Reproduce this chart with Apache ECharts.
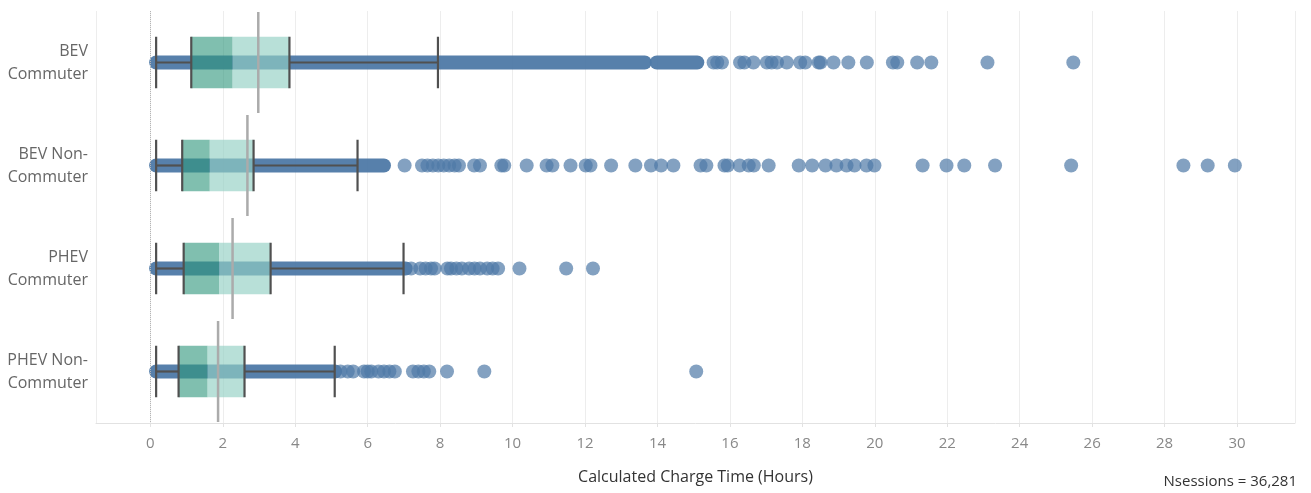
<!DOCTYPE html>
<html>
<head>
<meta charset="utf-8">
<script src="https://cdn.jsdelivr.net/npm/echarts@6.0.0/dist/echarts.min.js"></script>
<style>
  html, body { margin: 0; padding: 0; background: #fff; }
  #chart { width: 1311px; height: 493px; }
</style>
</head>
<body>
<div id="chart"></div>
<script>
const categories = ['BEV\nCommuter', 'BEV Non-\nCommuter', 'PHEV\nCommuter', 'PHEV Non-\nCommuter']
const lowerWhisker = [0.16, 0.16, 0.16, 0.16]
const q1 = [1.13, 0.88, 0.92, 0.78]
const median = [2.27, 1.64, 1.9, 1.58]
const q3 = [3.84, 2.85, 3.32, 2.6]
const upperWhisker = [7.94, 5.72, 6.99, 5.09]
const average = [2.98, 2.68, 2.27, 1.87]
// stretches where the sessions are so dense they merge into one band
const denseRuns = [
  [[0.16, 13.65], [13.98, 15.1]],
  [[0.16, 6.45]],
  [[0.16, 7.05]],
  [[0.16, 5.1]]
]
const outliers = [
  [15.55, 15.65, 15.78, 16.28, 16.4, 16.65, 17.02, 17.15, 17.3, 17.57, 17.94, 18.08, 18.45, 18.5, 18.86, 19.27, 19.78, 20.5, 20.62, 21.17, 21.56, 23.11, 25.48],
  [7.02, 7.5, 7.65, 7.8, 7.95, 8.1, 8.25, 8.4, 8.52, 8.94, 9.1, 9.69, 9.77, 10.39, 10.94, 11.1, 11.6, 12.02, 12.15, 12.72, 13.39, 13.82, 14.1, 14.44, 15.19, 15.35, 15.85, 15.94, 16.27, 16.52, 16.66, 17.07, 17.9, 18.27, 18.64, 18.94, 19.22, 19.44, 19.77, 19.99, 21.32, 21.98, 22.47, 23.32, 25.42, 28.52, 29.19, 29.94],
  [7.2, 7.45, 7.6, 7.75, 7.85, 8.2, 8.3, 8.45, 8.6, 8.8, 8.95, 9.1, 9.3, 9.45, 9.6, 10.19, 11.48, 12.22],
  [5.25, 5.45, 5.6, 5.9, 6.0, 6.1, 6.3, 6.45, 6.6, 6.75, 7.25, 7.4, 7.55, 7.7, 8.19, 9.22, 15.07]
]
const axisTitle = 'Calculated Charge Time (Hours)'
const sessionCount = '36,281'

const FONT = '"Open Sans", "Noto Sans", sans-serif'
const BLUE = '#4e79a7'
const DOT = 14

const mychart = echarts.init(document.getElementById('chart'))

let runData = []
denseRuns.forEach((runs, i) => runs.forEach(r => runData.push([i, r[0], r[1]])))
let pointData = []
outliers.forEach((vals, i) => vals.forEach(v => pointData.push([v, i])))
let boxData = categories.map((c, i) => [i, lowerWhisker[i], q1[i], median[i], q3[i], upperWhisker[i]])
let avgData = categories.map((c, i) => [i, average[i]])

const renderRun = (params, api) => {
  const a = api.coord([api.value(1), api.value(0)])
  const b = api.coord([api.value(2), api.value(0)])
  return {
    type: 'line',
    shape: { x1: a[0], y1: a[1], x2: b[0], y2: b[1] },
    style: { stroke: BLUE, lineWidth: DOT, lineCap: 'round', opacity: 0.95 }
  }
}

const renderBox = (params, api) => {
  const cat = api.value(0)
  const h = api.size([0, 1])[1] * 0.5
  const x = [1, 2, 3, 4, 5].map(d => api.coord([api.value(d), cat])[0])
  const y = api.coord([0, cat])[1]
  const dark = { stroke: '#505050', lineWidth: 2.2 }
  const vline = px => ({ type: 'line', shape: { x1: px, y1: y - h / 2, x2: px, y2: y + h / 2 }, style: dark })
  return {
    type: 'group',
    children: [
      { type: 'rect', shape: { x: x[1], y: y - h / 2, width: x[2] - x[1], height: h }, style: { fill: 'rgba(48,150,125,0.61)' } },
      { type: 'rect', shape: { x: x[2], y: y - h / 2, width: x[3] - x[2], height: h }, style: { fill: 'rgba(146,207,195,0.65)' } },
      { type: 'line', shape: { x1: x[0], y1: y, x2: x[1], y2: y }, style: dark },
      { type: 'line', shape: { x1: x[3], y1: y, x2: x[4], y2: y }, style: dark },
      vline(x[0]),
      vline(x[1]),
      vline(x[3]),
      vline(x[4])
    ]
  }
}

const renderAvg = (params, api) => {
  const cat = api.value(0)
  const band = api.size([0, 1])[1]
  const p = api.coord([api.value(1), cat])
  return {
    type: 'line',
    shape: { x1: p[0], y1: p[1] - band / 2 + 1, x2: p[0], y2: p[1] + band / 2 - 1 },
    style: { stroke: '#ababab', lineWidth: 2.5 }
  }
}

const option = {
  backgroundColor: '#fff',
  animation: false,
  textStyle: { fontFamily: FONT },
  grid: { left: 96, right: 16, top: 11, bottom: 70 },
  xAxis: {
    type: 'value',
    min: -1.5,
    max: 31.6,
    splitNumber: 16,
    minInterval: 2,
    maxInterval: 2,
    name: axisTitle,
    nameLocation: 'middle',
    nameGap: 46,
    nameTextStyle: { color: '#333', fontSize: 16, fontFamily: FONT },
    axisLine: { show: true, lineStyle: { color: '#e2e2e2' } },
    axisTick: { show: true, length: 4, lineStyle: { color: '#e2e2e2' } },
    axisLabel: { color: '#888', fontSize: 15, margin: 13, showMinLabel: false, showMaxLabel: false, fontFamily: FONT },
    splitLine: { show: true, lineStyle: { color: '#ededed', width: 1 } }
  },
  yAxis: {
    type: 'category',
    data: categories,
    inverse: true,
    axisLine: { show: false },
    axisTick: { show: false },
    splitLine: { show: false },
    axisLabel: { color: '#666', fontSize: 16, lineHeight: 23, align: 'right', margin: 8, fontFamily: FONT }
  },
  graphic: [
    {
      type: 'text',
      right: 14,
      top: 474,
      style: { text: 'Nsessions = ' + sessionCount, fill: '#333', font: '15px ' + FONT }
    }
  ],
  series: [
    {
      name: 'dense',
      type: 'custom',
      renderItem: renderRun,
      encode: { x: [1, 2], y: 0 },
      data: runData,
      z: 2,
      markLine: {
        silent: true,
        symbol: 'none',
        label: { show: false },
        lineStyle: { color: '#b5b5b5', type: 'dotted', width: 1 },
        data: [{ xAxis: 0 }]
      }
    },
    {
      name: 'sessions',
      type: 'scatter',
      symbolSize: DOT,
      itemStyle: { color: BLUE, opacity: 0.7 },
      data: pointData,
      z: 2
    },
    {
      name: 'box',
      type: 'custom',
      renderItem: renderBox,
      encode: { x: [1, 2, 3, 4, 5], y: 0 },
      data: boxData,
      z: 3
    },
    {
      name: 'average',
      type: 'custom',
      renderItem: renderAvg,
      encode: { x: 1, y: 0 },
      data: avgData,
      z: 4
    }
  ]
}
option && mychart.setOption(option)
</script>
</body>
</html>
